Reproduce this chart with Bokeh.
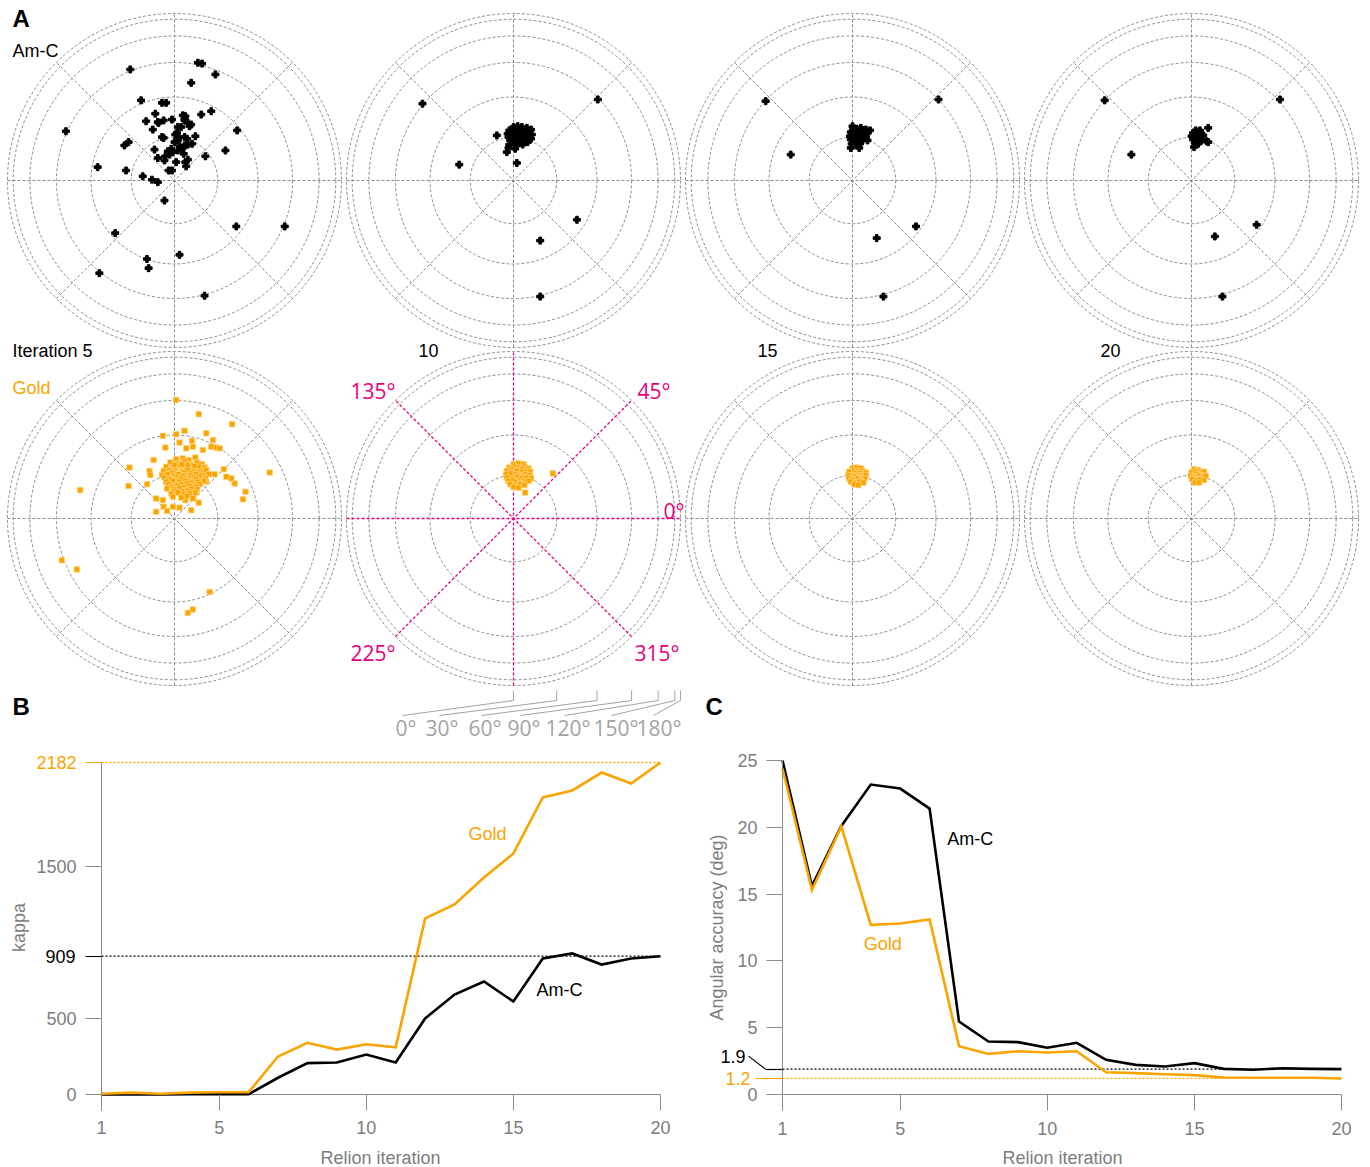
import numpy as np
from bokeh.plotting import figure
from bokeh.layouts import column, row
from bokeh.models import Range1d, FixedTicker, LinearAxis
from bokeh.core.properties import value
from bokeh.embed import file_html
from bokeh.resources import INLINE

ORANGE = "#f9a400"
ORANGE_EDGE = "#ffd37a"
MAGENTA = "#e6007e"
RING_GRAY = "#8c8c8c"
AXIS_GRAY = "#8c8c8c"
LABEL_GRAY = "#7d7d7d"
SCALE_GRAY = "#a3a3a3"
SANS = "Liberation Sans"
ROUND = "Open Sans"
TICK_FONT = "18px"

# ---------------------------------------------------------------- data
iterations = list(range(1, 21))
kappa_gold = [5, 12, 5, 12, 15, 15, 250, 340, 295, 330, 310, 1157, 1249, 1426,
              1584, 1952, 1998, 2116, 2044, 2182]
kappa_amc = [0, 1, 1, 2, 2, 2, 110, 206, 210, 263, 210, 500, 657, 743,
             611, 894, 927, 854, 894, 909]
acc_amc = [25.0, 15.6, 20.1, 23.2, 22.9, 21.4, 5.46, 3.97, 3.92, 3.5, 3.87,
           2.6, 2.22, 2.1, 2.35, 1.92, 1.85, 1.97, 1.92, 1.9]
acc_gold = [24.4, 15.3, 20.06, 12.7, 12.8, 13.1, 3.62, 3.04, 3.24, 3.14, 3.24,
            1.67, 1.6, 1.52, 1.45, 1.27, 1.25, 1.25, 1.25, 1.2]

x_ticks = [1, 5, 10, 15, 20]
kappa_ticks = [0, 500, 1500]
acc_ticks = [0, 5, 10, 15, 20, 25]

# polar plots: Lambert equal-area coordinates, r = 2 sin(tilt / 2)
ring_deg = [30, 60, 90, 120, 150, 180]
spoke_deg = [0, 45, 90, 135]
scale_deg = [0, 30, 60, 90, 120, 150, 180]
direction_deg = [135, 45, 0, 225, 315]
iteration_names = ["Iteration 5", "10", "15", "20"]

amc_it5 = [
    (-0.53, 1.33), (0.28, 1.41), (0.33, 1.40), (0.49, 1.27), (0.20, 1.17),
    (-1.30, 0.59), (1.32, -0.55), (0.74, -0.55), (-0.12, -0.24), (-0.71, -0.63),
    (0.06, -0.89), (-0.33, -0.94), (-0.31, -1.05), (-0.90, -1.11), (0.36, -1.38),
    (-0.40, 0.96), (-0.15, 0.93), (-0.10, 0.93), (-0.23, 0.80), (-0.34, 0.71),
    (-0.20, 0.70), (-0.19, 0.69), (-0.13, 0.72), (-0.03, 0.73), (0.10, 0.78),
    (0.13, 0.77), (0.12, 0.74), (0.12, 0.72), (0.16, 0.69), (0.20, 0.67),
    (0.18, 0.65), (0.32, 0.79), (0.44, 0.83), (-0.26, 0.61), (0.04, 0.64),
    (0.08, 0.64), (0.01, 0.55), (0.03, 0.57), (0.05, 0.52), (0.04, 0.48),
    (0.00, 0.46), (0.12, 0.52), (0.15, 0.50), (0.25, 0.53), (-0.15, 0.52),
    (-0.13, 0.51), (-0.55, 0.46), (-0.60, 0.42), (-0.24, 0.37), (-0.04, 0.38),
    (-0.02, 0.34), (-0.06, 0.31), (-0.08, 0.35), (-0.11, 0.29), (0.04, 0.36),
    (0.06, 0.41), (0.10, 0.39), (0.12, 0.42), (0.16, 0.43), (0.11, 0.32),
    (0.21, 0.44), (-0.20, 0.27), (-0.12, 0.24), (0.02, 0.22), (0.13, 0.22),
    (0.14, 0.17), (0.16, 0.25), (0.37, 0.29), (0.61, 0.36), (0.75, 0.60),
    (-0.92, 0.16), (-0.58, 0.12), (-0.38, 0.05), (-0.27, 0.01), (-0.20, -0.02),
    (-0.07, 0.12), (-0.03, 0.12),
]

amc_it10 = [
    (-1.09, 0.92), (1.01, 0.97), (-0.65, 0.19), (0.04, 0.21), (-0.20, 0.54),
    (-0.08, 0.34), (0.76, -0.47), (0.32, -0.72), (0.32, -1.39),
    (0.00, 0.64), (0.05, 0.65), (0.10, 0.64), (0.16, 0.63), (0.21, 0.61),
    (-0.05, 0.60), (0.02, 0.60), (0.07, 0.61), (0.12, 0.60), (0.17, 0.59),
    (0.22, 0.55), (-0.07, 0.56), (-0.02, 0.56), (0.04, 0.57), (0.09, 0.56),
    (0.14, 0.55), (0.19, 0.54), (-0.06, 0.52), (0.00, 0.52), (0.05, 0.53),
    (0.10, 0.52), (0.15, 0.51), (0.21, 0.50), (-0.04, 0.48), (0.02, 0.49),
    (0.07, 0.48), (0.12, 0.47), (0.17, 0.46), (-0.05, 0.43), (0.01, 0.44),
    (0.04, 0.42), (0.11, 0.43), (-0.06, 0.39), (0.02, 0.38),
]

amc_it15 = [
    (-1.04, 0.95), (1.03, 0.97), (-0.74, 0.31), (0.76, -0.55), (0.29, -0.69),
    (0.37, -1.39),
    (0.00, 0.65), (0.05, 0.62), (0.10, 0.63), (0.16, 0.61), (0.21, 0.60),
    (-0.02, 0.58), (0.03, 0.58), (0.08, 0.58), (0.13, 0.57), (0.17, 0.56),
    (-0.03, 0.53), (0.02, 0.53), (0.07, 0.54), (0.12, 0.53), (0.16, 0.52),
    (-0.02, 0.49), (0.03, 0.49), (0.08, 0.50), (0.12, 0.48), (0.18, 0.48),
    (-0.01, 0.44), (0.04, 0.45), (0.09, 0.44), (-0.02, 0.39), (0.08, 0.39),
]

amc_it20 = [
    (-1.04, 0.96), (1.06, 0.97), (-0.72, 0.31), (0.78, -0.53), (0.28, -0.67),
    (0.37, -1.39),
    (0.20, 0.63), (0.05, 0.60), (0.10, 0.60), (0.02, 0.57), (0.07, 0.57),
    (0.12, 0.56), (0.00, 0.53), (0.05, 0.53), (0.10, 0.52), (0.14, 0.54),
    (0.02, 0.49), (0.07, 0.49), (0.12, 0.48), (0.18, 0.47), (0.20, 0.46),
    (0.04, 0.45), (0.08, 0.44), (0.03, 0.40),
]

gold_it5 = [
    (0.02, 1.42), (0.29, 1.25), (0.69, 1.13), (1.14, 0.55), (-1.13, 0.34),
    (-0.54, 0.61), (-0.55, 0.39), (0.85, 0.32), (0.82, 0.23), (-1.35, -0.50),
    (-1.17, -0.61), (0.42, -0.88), (0.22, -1.09), (0.16, -1.13), (-0.22, 0.08),
    (0.72, 0.42), (0.68, 0.48), (0.62, 0.50), (0.59, 0.59), (0.48, 0.53),
    (0.38, 0.44), (0.36, 0.53), (-0.14, 0.99), (0.02, 1.01), (0.12, 1.05),
    (0.38, 1.02), (0.46, 0.94), (0.44, 0.86), (0.50, 0.85), (0.54, 0.84),
    (0.34, 0.82), (0.21, 0.93), (0.22, 0.86), (0.14, 0.84), (0.06, 0.91),
    (-0.11, 0.85), (-0.25, 0.70), (-0.30, 0.57), (-0.29, 0.52), (-0.33, 0.41),
    (-0.22, 0.24), (-0.14, 0.22), (-0.13, 0.14), (-0.09, 0.09), (-0.02, 0.14),
    (0.06, 0.13), (0.20, 0.10), (0.29, 0.19), (0.13, 0.22), (0.23, 0.27),
    (0.02, 0.71), (0.10, 0.72), (0.17, 0.70), (0.25, 0.73),
    (-0.05, 0.67), (0.04, 0.66), (0.12, 0.68), (0.19, 0.65), (0.27, 0.67),
    (0.33, 0.65), (-0.10, 0.62), (-0.02, 0.61), (0.07, 0.63), (0.14, 0.62),
    (0.22, 0.60), (0.29, 0.62), (0.36, 0.61), (0.00, 0.64), (0.09, 0.65),
    (0.16, 0.64), (0.24, 0.63), (-0.13, 0.57), (-0.06, 0.58), (0.01, 0.57),
    (0.09, 0.56), (0.16, 0.58), (0.23, 0.57), (0.31, 0.56), (0.38, 0.58),
    (-0.04, 0.55), (0.03, 0.54), (0.11, 0.55), (0.20, 0.54), (0.28, 0.55),
    (-0.15, 0.52), (-0.08, 0.53), (-0.01, 0.51), (0.05, 0.53), (0.12, 0.52),
    (0.19, 0.51), (0.26, 0.53), (0.33, 0.52), (0.41, 0.53), (-0.12, 0.49),
    (-0.04, 0.48), (0.03, 0.49), (0.10, 0.50), (0.17, 0.48), (0.24, 0.49),
    (0.30, 0.50), (0.37, 0.48), (-0.07, 0.47), (0.01, 0.46), (0.08, 0.47),
    (0.15, 0.46), (0.26, 0.47), (0.32, 0.46), (-0.10, 0.44), (-0.02, 0.45),
    (0.06, 0.44), (0.13, 0.45), (0.21, 0.43), (0.28, 0.44), (0.35, 0.45),
    (-0.07, 0.41), (0.01, 0.40), (0.08, 0.41), (0.15, 0.42), (0.22, 0.40),
    (0.30, 0.41), (-0.04, 0.38), (0.04, 0.39), (0.11, 0.37), (0.18, 0.39),
    (0.26, 0.38), (-0.09, 0.36), (-0.01, 0.35), (0.06, 0.36), (0.13, 0.34),
    (0.20, 0.36), (0.27, 0.35), (0.00, 0.33), (0.09, 0.32), (0.16, 0.33),
    (0.22, 0.31), (-0.04, 0.30), (0.04, 0.31), (0.11, 0.29), (0.18, 0.30),
    (0.25, 0.31), (-0.02, 0.26), (0.08, 0.25), (0.15, 0.27), (0.22, 0.24),
]

gold_it10 = [
    (0.47, 0.54), (0.14, 0.31),
    (0.00, 0.65), (0.06, 0.66), (0.12, 0.65),
    (-0.05, 0.61), (0.01, 0.62), (0.07, 0.61), (0.13, 0.62), (0.18, 0.60),
    (-0.02, 0.59), (0.10, 0.59),
    (-0.08, 0.57), (-0.02, 0.56), (0.04, 0.57), (0.10, 0.56), (0.16, 0.57),
    (0.20, 0.56), (-0.09, 0.53), (-0.03, 0.54), (0.03, 0.53), (0.09, 0.52),
    (0.15, 0.53), (0.19, 0.52), (0.06, 0.51), (0.12, 0.50),
    (-0.08, 0.49), (-0.02, 0.48), (0.04, 0.49), (0.10, 0.48), (0.16, 0.49),
    (0.21, 0.48), (-0.06, 0.45), (0.00, 0.46), (0.06, 0.45), (0.12, 0.44),
    (0.18, 0.45), (0.03, 0.43), (0.09, 0.42),
    (-0.04, 0.41), (0.02, 0.40), (0.08, 0.41), (0.13, 0.40), (0.00, 0.38),
    (0.06, 0.37),
]

gold_it15 = [
    (0.00, 0.60), (0.05, 0.61), (0.10, 0.60),
    (-0.04, 0.56), (0.02, 0.57), (0.07, 0.56), (0.12, 0.57), (0.16, 0.55),
    (0.04, 0.54), (0.09, 0.54),
    (-0.05, 0.52), (0.01, 0.51), (0.06, 0.52), (0.11, 0.51), (0.16, 0.52),
    (0.04, 0.50), (0.09, 0.49),
    (-0.04, 0.48), (0.02, 0.47), (0.07, 0.48), (0.12, 0.47), (0.15, 0.48),
    (0.00, 0.46), (0.10, 0.45),
    (-0.02, 0.44), (0.04, 0.43), (0.09, 0.44), (0.13, 0.43),
    (0.02, 0.41), (0.07, 0.40),
]

gold_it20 = [
    (0.03, 0.59), (0.08, 0.58),
    (0.00, 0.55), (0.05, 0.56), (0.10, 0.55), (0.15, 0.56),
    (0.07, 0.53), (0.12, 0.52),
    (-0.01, 0.51), (0.04, 0.50), (0.09, 0.51), (0.14, 0.50), (0.17, 0.51),
    (0.02, 0.49), (0.08, 0.48),
    (0.01, 0.47), (0.06, 0.46), (0.11, 0.47), (0.15, 0.46),
    (0.04, 0.43), (0.09, 0.43),
]

amc_panels = [amc_it5, amc_it10, amc_it15, amc_it20]
gold_panels = [gold_it5, gold_it10, gold_it15, gold_it20]

# ---------------------------------------------------------------- layout (page pixels)
PX = 83.5                     # pixels per Lambert unit
TOP_W, TOP_H = 1370, 745
COL_X = [174, 513, 852, 1191]
ROW_Y = [180, 518]
ITER_X = [12, 418, 757, 1100]
DIR_POS = [(350, 390), (637, 390), (663, 510), (350, 652), (634, 652)]
SCALE_LEADER_X = [402, 439, 481, 520, 564, 611, 653]
SCALE_LABEL_X = [395, 425, 468, 507, 545, 593, 636]


def gx(xp):
    return xp / PX


def gy(yp):
    return -yp / PX


polar = figure(width=TOP_W, height=TOP_H, x_range=Range1d(0, TOP_W / PX),
               y_range=Range1d(-TOP_H / PX, 0), output_backend="svg",
               toolbar_location=None, x_axis_type=None, y_axis_type=None,
               min_border=0, outline_line_color=None)
polar.grid.visible = False

ring_r = [2 * np.sin(np.radians(d) / 2) for d in ring_deg]
rim = ring_r[-1]

for ri, ry in enumerate(ROW_Y):
    for ci, cx_px in enumerate(COL_X):
        cx, cy = gx(cx_px), gy(ry)
        polar.circle(x=[cx] * len(ring_r), y=[cy] * len(ring_r), radius=ring_r,
                     fill_color=None, line_color=RING_GRAY, line_width=1,
                     line_dash="3 2")
        a = np.radians(spoke_deg)
        reference = (ri == 1 and ci == 1)
        polar.segment(x0=list(cx - rim * np.cos(a)), y0=list(cy - rim * np.sin(a)),
                      x1=list(cx + rim * np.cos(a)), y1=list(cy + rim * np.sin(a)),
                      line_color=MAGENTA if reference else RING_GRAY,
                      line_width=1.3 if reference else 1, line_dash="3 2")
        if ri == 0:
            pts = amc_panels[ci]
            polar.scatter([cx + p[0] for p in pts], [cy + p[1] for p in pts],
                          marker="plus", size=7, color="black")
        else:
            pts = gold_panels[ci]
            polar.scatter([cx + p[0] for p in pts], [cy + p[1] for p in pts],
                          marker="square", size=5.5, fill_color=ORANGE,
                          line_color=ORANGE_EDGE, line_width=0.8)

# panel letters and row/column names
polar.text(x=[gx(12), gx(12), gx(705)], y=[gy(18), gy(706), gy(706)],
           text=["A", "B", "C"], text_font=value(SANS), text_font_style="bold",
           text_font_size="24px", text_baseline="middle", text_color="black")
polar.text(x=[gx(12)], y=[gy(50)], text=["Am-C"], text_font=value(SANS),
           text_font_size="18px", text_baseline="middle", text_color="black")
polar.text(x=[gx(12)], y=[gy(387)], text=["Gold"], text_font=value(SANS),
           text_font_size="18px", text_baseline="middle", text_color=ORANGE)
polar.text(x=[gx(v) for v in ITER_X], y=[gy(350)] * 4, text=iteration_names,
           text_font=value(SANS), text_font_size="18px", text_baseline="middle",
           text_color="black")

# azimuth labels on the reference panel
polar.text(x=[gx(p[0]) for p in DIR_POS], y=[gy(p[1]) for p in DIR_POS],
           text=[f"{d}°" for d in direction_deg], text_font=value(ROUND),
           text_font_size="21px", text_baseline="middle", text_color=MAGENTA)

# tilt scale below the reference panel
sc_x = gx(COL_X[1])
tick_x = [sc_x + 2 * np.sin(np.radians(d) / 2) for d in scale_deg]
n = len(scale_deg)
polar.segment(x0=tick_x, y0=[gy(690)] * n, x1=tick_x, y1=[gy(700)] * n,
              line_color=SCALE_GRAY, line_width=1)
polar.segment(x0=tick_x, y0=[gy(700)] * n, x1=[gx(v) for v in SCALE_LEADER_X],
              y1=[gy(715)] * n, line_color=SCALE_GRAY, line_width=1)
polar.text(x=[gx(v) for v in SCALE_LABEL_X], y=[gy(713)] * n,
           text=[f"{d}°" for d in scale_deg], text_font=value(ROUND),
           text_font_size="21px", text_baseline="top", text_color=SCALE_GRAY)


# ---------------------------------------------------------------- line panels
PANEL_TOP, PANEL_H = TOP_H, 422
ZERO_Y = 1094                       # page y of value 0
X_PER_PX = 19 / 559                 # iterations per pixel


class PanelGeom:
    """Maps page pixels of one line panel to its data coordinates."""

    def __init__(self, left, width, first_x, y_per_px):
        self.left, self.width, self.first_x, self.ky = left, width, first_x, y_per_px

    def x(self, px):
        return iterations[0] + (px - self.first_x) * X_PER_PX

    def y(self, py):
        return (ZERO_Y - py) * self.ky


def line_panel(g, y_bounds, yticks, ylabel, ylabel_pos, xlabel_pos):
    """Whole canvas is the frame, so both axes are pinned inside it."""
    p = figure(width=g.width, height=PANEL_H,
               x_range=Range1d(g.x(g.left), g.x(g.left + g.width)),
               y_range=Range1d(g.y(PANEL_TOP + PANEL_H), g.y(PANEL_TOP)),
               x_axis_location=None, y_axis_location=None,
               output_backend="svg", toolbar_location=None, min_border=0,
               outline_line_color=None)
    p.grid.visible = False

    xa = LinearAxis(fixed_location=y_bounds[0], ticker=FixedTicker(ticks=x_ticks),
                    bounds=(iterations[0], iterations[-1]))
    xa.major_tick_in = 16
    xa.major_tick_out = 0
    xa.minor_tick_line_color = None
    xa.axis_line_color = None
    xa.major_tick_line_color = AXIS_GRAY
    xa.major_label_standoff = 11
    xa.major_label_text_font = SANS
    xa.major_label_text_font_size = TICK_FONT
    xa.major_label_text_color = LABEL_GRAY
    p.add_layout(xa, "below")

    ya = LinearAxis(fixed_location=iterations[0], ticker=FixedTicker(ticks=yticks),
                    bounds=y_bounds)
    ya.major_tick_in = 0
    ya.major_tick_out = 16
    ya.minor_tick_line_color = None
    ya.axis_line_color = AXIS_GRAY
    ya.major_tick_line_color = AXIS_GRAY
    ya.major_label_standoff = 9
    ya.major_label_text_font = SANS
    ya.major_label_text_font_size = TICK_FONT
    ya.major_label_text_color = LABEL_GRAY
    p.add_layout(ya, "left")

    p.text(x=[g.x(xlabel_pos[0])], y=[g.y(xlabel_pos[1])], text=["Relion iteration"],
           text_font=value(SANS), text_font_size="18px", text_color=LABEL_GRAY,
           text_align="center", text_baseline="middle")
    p.text(x=[g.x(ylabel_pos[0])], y=[g.y(ylabel_pos[1])], text=[ylabel],
           angle=np.pi / 2, text_font=value(SANS), text_font_size="18px",
           text_color=LABEL_GRAY, text_align="center", text_baseline="middle")
    p.line([iterations[0], iterations[-1]], [0, 0], line_color=AXIS_GRAY,
           line_width=1)
    return p


def value_axis(p, tick, color, tick_out, standoff, text=None):
    """Extra y axis pinned at iteration 1, marking one reference value."""
    ax = LinearAxis(fixed_location=iterations[0], ticker=FixedTicker(ticks=[tick]))
    ax.major_tick_in = 0
    ax.major_tick_out = tick_out
    ax.major_tick_line_color = color
    ax.major_tick_line_width = 1.2
    ax.minor_tick_line_color = None
    ax.axis_line_color = None
    ax.major_label_text_font = SANS
    ax.major_label_text_font_size = TICK_FONT
    ax.major_label_text_color = color
    ax.major_label_standoff = standoff
    if text is not None:
        ax.major_label_overrides = {tick: text}
    p.add_layout(ax, "left")


def dotted(p, yv, color):
    p.line([iterations[0], iterations[-1]], [yv, yv], line_color=color,
           line_width=1.3, line_dash="2 2")


# B: concentration kappa
gb = PanelGeom(left=0, width=690, first_x=101, y_per_px=2287 / 348)
pb = line_panel(gb, (-105, kappa_gold[-1]), kappa_ticks, "kappa", (18, 927),
                (380, 1157))
dotted(pb, kappa_gold[-1], ORANGE)
dotted(pb, kappa_amc[-1], "black")
pb.line(iterations, kappa_amc, line_color="black", line_width=2.6,
        line_join="miter")
pb.line(iterations, kappa_gold, line_color=ORANGE, line_width=2.6,
        line_join="miter")
value_axis(pb, kappa_gold[-1], ORANGE, 16, 9)
value_axis(pb, kappa_amc[-1], "black", 16, 10)
pb.text(x=[14.12, 16.57], y=[1709, 690], text=["Gold", "Am-C"],
        text_color=[ORANGE, "black"], text_font=value(SANS),
        text_font_size="18px", text_align="center", text_baseline="middle")

# C: angular accuracy
gc = PanelGeom(left=690, width=680, first_x=782, y_per_px=26.2 / 350)
pc = line_panel(gc, (-1.2, acc_amc[0]), acc_ticks, "Angular accuracy (deg)",
                (716, 927), (1062, 1157))
dotted(pc, acc_amc[-1], "black")
dotted(pc, acc_gold[-1], ORANGE)
pc.line(iterations, acc_amc, line_color="black", line_width=2.6,
        line_join="miter")
pc.line(iterations, acc_gold, line_color=ORANGE, line_width=2.6,
        line_join="miter")
value_axis(pc, acc_gold[-1], ORANGE, 27, 5)
# the 1.9 label sits on a bent leader so it clears the 1.2 label
value_axis(pc, acc_amc[-1], "black", 17, 0, text="")
lifted = acc_amc[-1] + 13 * gc.ky
pc.segment(x0=[gc.x(748)], y0=[lifted], x1=[gc.x(765)], y1=[acc_amc[-1]],
           line_color="black", line_width=1.2)
pc.text(x=[gc.x(745)], y=[lifted], text=[f"{acc_amc[-1]}"],
        text_font=value(SANS), text_font_size=TICK_FONT, text_color="black",
        text_align="right", text_baseline="middle")
pc.text(x=[7.38, 4.41], y=[19.09, 11.3], text=["Am-C", "Gold"],
        text_color=["black", ORANGE], text_font=value(SANS),
        text_font_size="18px", text_align="center", text_baseline="middle")

layout = column(polar, row(pb, pc))
open("out.html", "w").write(file_html(layout, INLINE))
